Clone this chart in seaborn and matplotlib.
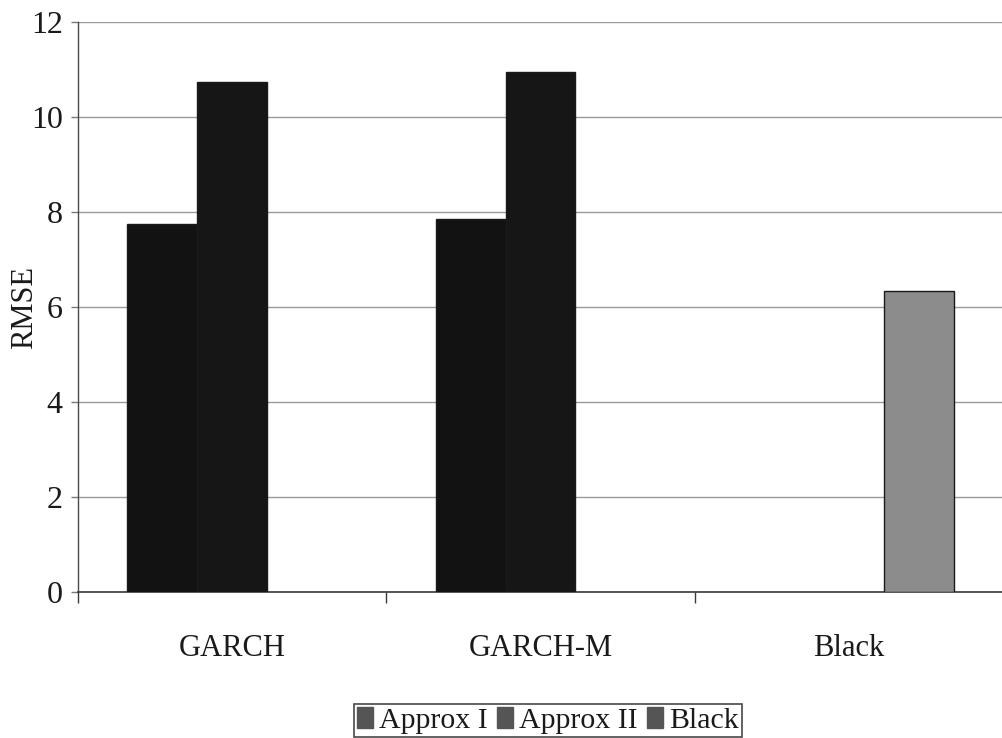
import matplotlib
matplotlib.use("Agg")
import matplotlib.pyplot as plt
import seaborn as sns
import pandas as pd

# Chart data
models = ["GARCH", "GARCH-M", "Black"]
series = ["Approx I", "Approx II", "Black"]
approx_i = [7.75, 7.86, None]
approx_ii = [10.74, 10.96, None]
black = [None, None, 6.33]
y_ticks = [0, 2, 4, 6, 8, 10, 12]

rows = []
for name, vals in zip(series, [approx_i, approx_ii, black]):
    for m, v in zip(models, vals):
        if v is not None:
            rows.append({"model": m, "series": name, "RMSE": v})
df = pd.DataFrame(rows)

sns.set_style("white")
plt.rcParams["font.family"] = ["Liberation Serif", "DejaVu Serif"]

fig = plt.figure(figsize=(10.03, 7.38), dpi=100)
ax = fig.add_axes([0.0778, 0.198, 0.9222, 0.772])

palette = {"Approx I": "#121212", "Approx II": "#161616", "Black": "#8c8c8c"}
sns.barplot(data=df, x="model", y="RMSE", hue="series", order=models,
            hue_order=series, palette=palette, width=0.68, dodge=True,
            saturation=1, errorbar=None, ax=ax, zorder=3)

for bar in ax.patches:
    bar.set_edgecolor("#1a1a1a")
    bar.set_linewidth(1.0)

ax.set_xlim(-0.5, 2.5)
ax.set_ylim(0, 12)
ax.set_yticks(y_ticks)
ax.yaxis.grid(True, color="#9a9a9a", linewidth=1.0, zorder=0)
ax.set_axisbelow(True)

for side in ["top", "right"]:
    ax.spines[side].set_visible(False)
ax.spines["left"].set_color("#4a4a4a")
ax.spines["bottom"].set_color("#3a3a3a")
ax.spines["left"].set_linewidth(1.0)
ax.spines["bottom"].set_linewidth(1.2)

ax.set_xticks([-0.5, 0.5, 1.5, 2.5], minor=True)
ax.tick_params(axis="x", which="minor", direction="out", length=8,
               width=1.0, color="#3a3a3a", bottom=True)
ax.tick_params(axis="x", which="major", length=0, pad=30, labelsize=22,
               labelcolor="#1a1a1a")
ax.tick_params(axis="y", direction="out", length=5, width=1.0,
               color="#7a7a7a", pad=6, labelsize=23, labelcolor="#1a1a1a",
               left=True)

ax.set_xlabel("")
ax.set_ylabel("RMSE", fontsize=22, color="#1a1a1a")
ax.yaxis.set_label_coords(-0.042, 0.5)

handles, labels = ax.get_legend_handles_labels()
ax.get_legend().remove()
leg = fig.legend(handles, labels, loc="center", bbox_to_anchor=(0.546, 0.024),
                 ncol=3, fontsize=21.5, frameon=True, fancybox=False,
                 edgecolor="#1a1a1a", handlelength=0.55, handleheight=0.7,
                 handletextpad=0.2, columnspacing=0.3, borderpad=0.1,
                 borderaxespad=0.0)
leg.get_frame().set_linewidth(1.2)
for h in leg.legend_handles:
    h.set_facecolor("#555555")
    h.set_edgecolor("#555555")
for t in leg.get_texts():
    t.set_color("#1a1a1a")

fig.savefig("out.png", dpi=100, facecolor="white")
